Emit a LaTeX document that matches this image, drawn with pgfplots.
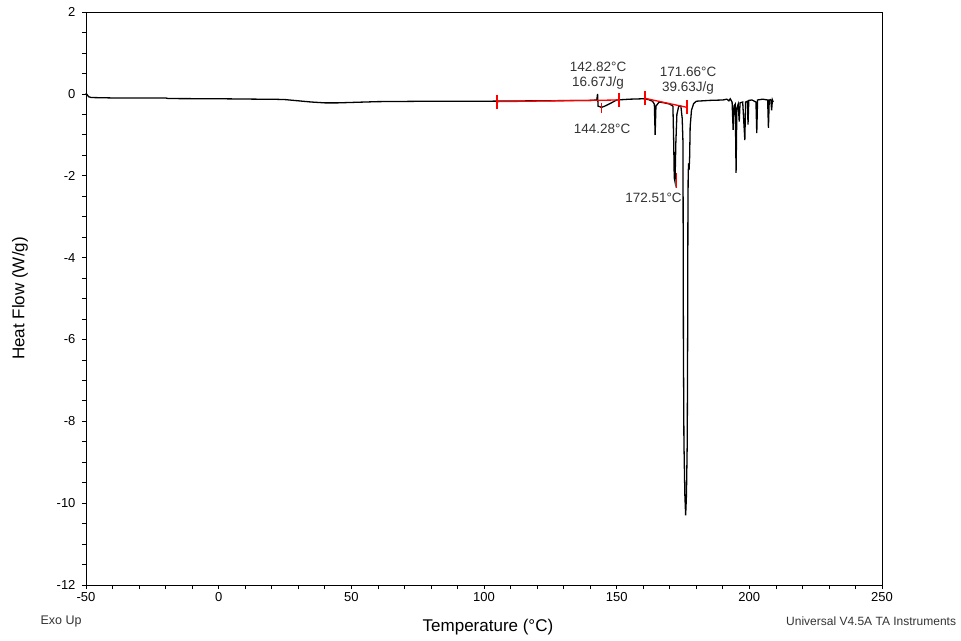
\documentclass[border=0pt]{standalone}
\usepackage{pgfplots}
\pgfplotsset{compat=1.18}
\usepackage{fontspec}
\setmainfont{Liberation Sans}
\definecolor{txt}{HTML}{333333}
\begin{document}
\begin{tikzpicture}
\begin{axis}[
  scale only axis, width=796bp, height=573bp,
  xmin=-50, xmax=250, ymin=-12, ymax=2,
  xtick={-50,0,...,250}, ytick={-12,-10,...,2},
  minor x tick num=4, minor y tick num=3,
  xtick pos=bottom, ytick pos=left, tick align=outside,
  major tick length=4bp, minor tick length=4bp,
  axis line style={line width=0.8bp},
  every tick/.style={black, line width=0.7bp},
  /pgf/number format/assume math mode=true,
  ticklabel style={font=\fontsize{13bp}{15bp}\selectfont},
  yticklabel style={/pgf/number format/.cd, fixed, /tikz/.cd, xshift=-3bp},
  xlabel={Temperature (°C)},
  label style={font=\fontsize{17bp}{19bp}\selectfont},
  x label style={at={(rel axis cs:0.505,0)}, anchor=center, yshift=-42bp},
  clip=false,
]
\addplot[black, line width=1.3bp] coordinates {
(-50,0.02) (-49.6,-0.02) (-49,-0.07) (-48,-0.09) (-40,-0.1) (-20,-0.1) (-19,-0.115) (0,-0.12)
(15,-0.13) (20,-0.13) (25,-0.14) (30,-0.17) (35,-0.2) (40,-0.22) (45,-0.22) (50,-0.21) (55,-0.2)
(60,-0.19) (80,-0.18) (100,-0.18) (120,-0.17) (140,-0.16) (142.5,-0.15) (142.8,0.0) (143.0,-0.3)
(144.3,-0.33) (145.5,-0.3) (146.5,-0.27) (148,-0.22) (150,-0.15) (155,-0.13) (160,-0.12)
(162,-0.14) (163.5,-0.18) (164.2,-0.25) (164.5,-1.0) (164.8,-0.3) (166,-0.2) (168,-0.22)
(170,-0.25) (171.2,-0.3) (171.5,-1.2) (171.7,-2.05) (172.0,-2.15) (172.3,-1.2) (172.7,-0.5)
(173.4,-0.3) (174.2,-0.3) (174.7,-0.6) (175.0,-1.2) (175.05,-3) (175.15,-6) (175.35,-8.5)
(175.7,-9.8) (176.0,-10.3) (176.3,-9.8) (176.6,-8.5) (176.75,-6) (176.85,-3) (176.95,-2.0)
(177.1,-1.7) (177.3,-1.85) (177.5,-1.55) (177.7,-0.8) (178.2,-0.4) (179,-0.24) (180,-0.18)
(185,-0.16) (190,-0.15)
(191.5,-0.13) (192.3,-0.17) (192.8,-0.12) (193.5,-0.2) (193.9,-0.88) (194.2,-0.3) (194.7,-0.25)
(195.0,-1.93) (195.3,-0.35) (195.8,-0.25) (196.2,-0.68) (196.5,-0.22) (197.5,-0.2)
(198.3,-1.13) (198.6,-0.2) (199.3,-0.18) (199.5,-0.75) (199.8,-0.16) (201,-0.15)
(202.5,-0.2) (202.8,-0.96) (203.1,-0.15) (205,-0.13) (206.9,-0.15) (207.2,-0.83) (207.5,-0.15)
(208.1,-0.14) (208.4,-0.4) (208.7,-0.15) (209,-0.2)
};
% red annotation lines
\addplot[red, line width=1.3bp] coordinates {(104.9,-0.19) (150.9,-0.15)};
\addplot[red, line width=1.3bp] coordinates {(104.9,-0.02) (104.9,-0.36)};
\addplot[red, line width=1.3bp] coordinates {(150.9,0.02) (150.9,-0.32)};
\addplot[red, line width=1.3bp] coordinates {(144.4,-0.22) (144.4,-0.47)};
\addplot[red, line width=1.3bp] coordinates {(160.7,-0.11) (176.5,-0.33)};
\addplot[red, line width=1.3bp] coordinates {(160.7,0.06) (160.7,-0.28)};
\addplot[red, line width=1.3bp] coordinates {(176.5,-0.16) (176.5,-0.5)};
\addplot[red, line width=1.3bp] coordinates {(172.45,-1.93) (172.45,-2.3)};
% annotation texts
\begin{scope}[every node/.style={font=\fontsize{13.5bp}{15bp}\selectfont, text=txt, inner sep=0pt}]
\node[anchor=center] at (axis cs:143.0,0.66) {142.82°C};
\node[anchor=center] at (axis cs:143.0,0.27) {16.67J/g};
\node[anchor=center] at (axis cs:176.9,0.53) {171.66°C};
\node[anchor=center] at (axis cs:176.9,0.14) {39.63J/g};
\node[anchor=center] at (axis cs:144.5,-0.86) {144.28°C};
\node[anchor=east] at (axis cs:174.6,-2.54) {172.51°C};
\end{scope}
\node[font=\fontsize{17bp}{19bp}\selectfont, xshift=-66bp, rotate=90, anchor=center] at (rel axis cs:0,0.5) {Heat Flow (W/g)};
\node[font=\fontsize{12.5bp}{14bp}\selectfont, text=txt, anchor=center] at (rel axis cs:0,0) [xshift=-25bp, yshift=-36bp] {Exo Up};
\node[font=\fontsize{12bp}{14bp}\selectfont, text=txt, anchor=west, inner sep=0pt] at (rel axis cs:0,0) [xshift=700bp, yshift=-36bp] {Universal V4.5A TA Instruments};
\end{axis}
\pgfresetboundingbox
\path[use as bounding box] (-86bp,-56bp) rectangle (875bp,585bp);
\end{tikzpicture}
\end{document}
